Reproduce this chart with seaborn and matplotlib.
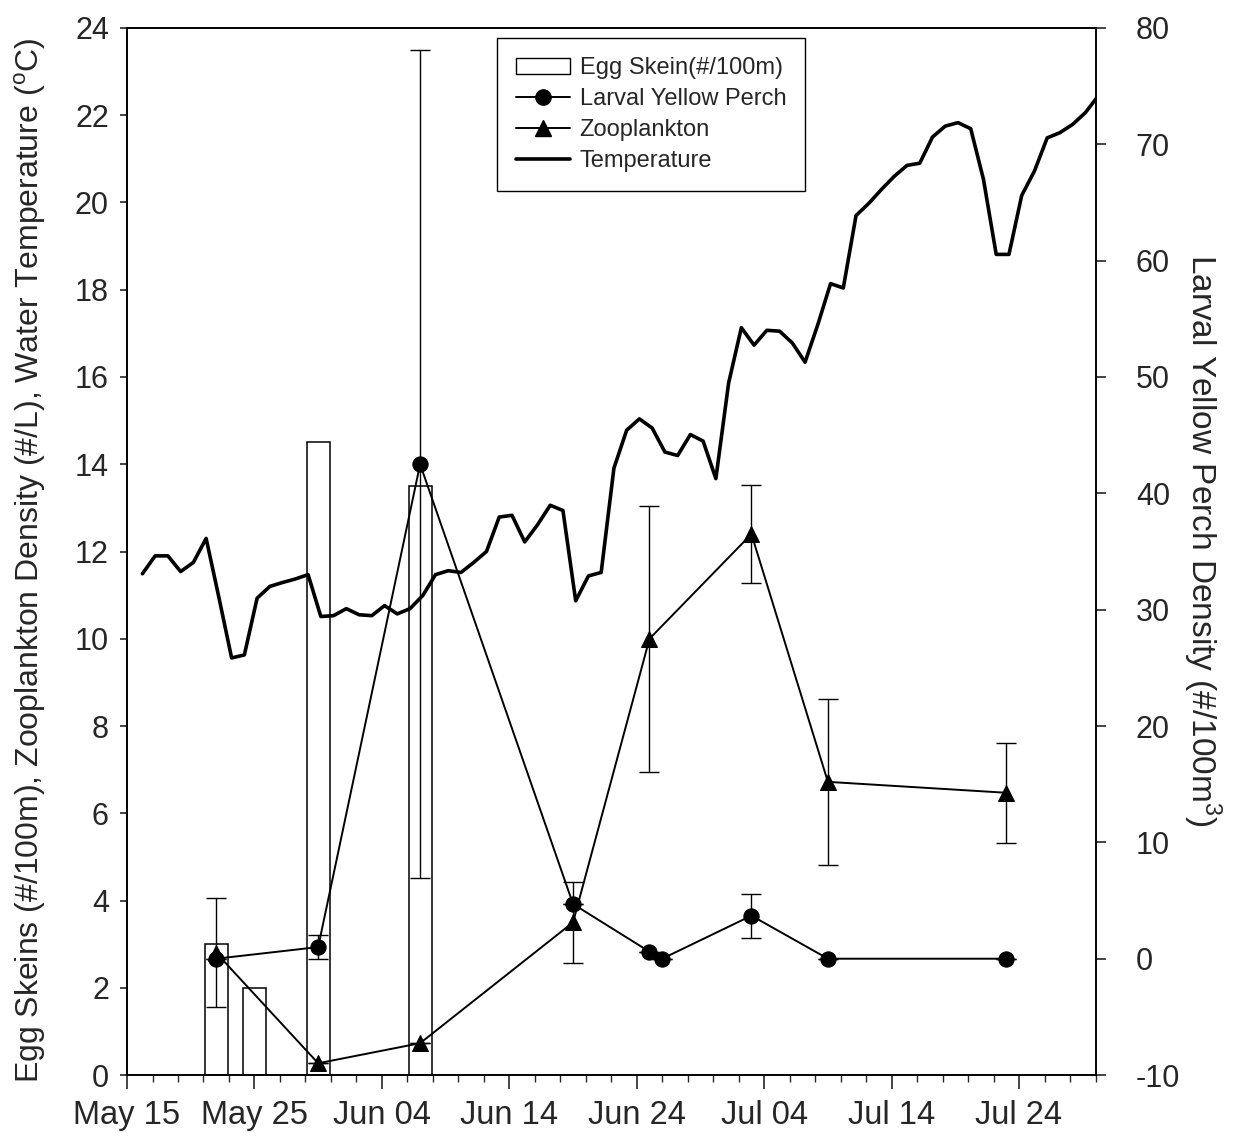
import numpy as np
import pandas as pd
import matplotlib
matplotlib.use("Agg")
import matplotlib.pyplot as plt
import seaborn as sns
from matplotlib.patches import Rectangle
from matplotlib.lines import Line2D

# ---------------- data ----------------
egg_dates = ["2004-05-22", "2004-05-25", "2004-05-30", "2004-06-07"]
egg_values = [3.0, 2.0, 14.5, 13.5]

perch_dates = ["2004-05-22", "2004-05-30", "2004-06-07", "2004-06-19", "2004-06-25",
               "2004-06-26", "2004-07-03", "2004-07-09", "2004-07-23"]
perch_values = [0.0, 1.0, 42.5, 4.7, 0.6, 0.0, 3.7, 0.0, 0.0]
perch_err = [0.0, 1.0, 35.6, 0.0, 0.0, 0.0, 1.9, 0.0, 0.0]

zoo_dates = ["2004-05-22", "2004-05-30", "2004-06-07", "2004-06-19", "2004-06-25",
             "2004-07-03", "2004-07-09", "2004-07-23"]
zoo_values = [2.8, 0.27, 0.73, 3.5, 10.0, 12.4, 6.72, 6.47]
zoo_err = [1.25, 0.0, 0.0, 0.93, 3.05, 1.13, 1.9, 1.15]

temp_start = "2004-05-16 05:00"
temp_values = [11.49, 11.90, 11.90, 11.54, 11.75, 12.30, 10.95, 9.56, 9.63, 10.93,
               11.20, 11.29, 11.37, 11.47, 10.51, 10.53, 10.69, 10.55, 10.53, 10.76,
               10.57, 10.69, 10.99, 11.47, 11.56, 11.52, 11.75, 12.00, 12.79, 12.83,
               12.22, 12.61, 13.06, 12.94, 10.87, 11.44, 11.52, 13.91, 14.78, 15.04,
               14.83, 14.28, 14.20, 14.68, 14.53, 13.67, 15.86, 17.13, 16.73, 17.07,
               17.05, 16.78, 16.34, 17.20, 18.14, 18.04, 19.70, 19.98, 20.30, 20.60,
               20.85, 20.90, 21.50, 21.75, 21.83, 21.69, 20.53, 18.81, 18.81, 20.16,
               20.72, 21.48, 21.60, 21.79, 22.06, 22.44]

xtick_labels = ["May 15", "May 25", "Jun 04", "Jun 14", "Jun 24", "Jul 04", "Jul 14", "Jul 24"]
xtick_dates = ["2004-05-15", "2004-05-25", "2004-06-04", "2004-06-14", "2004-06-24",
               "2004-07-04", "2004-07-14", "2004-07-24"]
x_start, x_end = "2004-05-15", "2004-07-30"

# ---------------- frames ----------------
egg = pd.DataFrame({"date": pd.to_datetime(egg_dates), "value": egg_values})
perch = pd.DataFrame({"date": pd.to_datetime(perch_dates), "value": perch_values, "err": perch_err})
zoo = pd.DataFrame({"date": pd.to_datetime(zoo_dates), "value": zoo_values, "err": zoo_err})
temp = pd.DataFrame({"date": pd.date_range(temp_start, periods=len(temp_values), freq="D"),
                     "value": temp_values})

# ---------------- style ----------------
sns.set_style("ticks")
plt.rcParams["font.family"] = ["Liberation Sans", "DejaVu Sans"]
plt.rcParams["mathtext.fontset"] = "custom"
plt.rcParams["mathtext.rm"] = "Liberation Sans"
plt.rcParams["axes.linewidth"] = 1.2
plt.rcParams["axes.unicode_minus"] = False

fig = plt.figure(figsize=(12.38, 11.41), dpi=100)
ax = fig.add_axes([0.1026, 0.0578, 0.7823, 0.9177])
ax2 = ax.twinx()

# bars
ax.bar(egg["date"], egg["value"], width=1.8, facecolor="white", edgecolor="black",
       linewidth=1.1, zorder=1)

# zooplankton
ax.errorbar(zoo["date"], zoo["value"], yerr=zoo["err"], fmt="none", ecolor="black",
            elinewidth=1.0, capsize=7, capthick=1.0, zorder=2)
sns.lineplot(data=zoo, x="date", y="value", ax=ax, color="black", marker="^",
             markersize=11, markeredgecolor="black", linewidth=1.4, zorder=3,
             legend=False)

# temperature
sns.lineplot(data=temp, x="date", y="value", ax=ax, color="black", linewidth=2.6,
             zorder=3, legend=False)

# perch on right axis
ax2.errorbar(perch["date"], perch["value"], yerr=perch["err"], fmt="none", ecolor="black",
             elinewidth=1.0, capsize=7, capthick=1.0, zorder=2)
sns.lineplot(data=perch, x="date", y="value", ax=ax2, color="black", marker="o",
             markersize=11, markeredgecolor="black", linewidth=1.4, zorder=3,
             legend=False)

# axes limits & ticks
ax.set_xlim(pd.Timestamp(x_start), pd.Timestamp(x_end))
ax.set_ylim(0, 24)
ax.set_yticks(np.arange(0, 25, 2))
ax2.set_ylim(-10, 80)
ax2.set_yticks(np.arange(-10, 81, 10))

ax.set_xticks(pd.to_datetime(xtick_dates))
ax.set_xticklabels(xtick_labels)
ax.set_xticks(pd.date_range(x_start, x_end, freq="2D"), minor=True)

ax.tick_params(axis="x", which="major", direction="out", length=10, width=1.2,
               labelsize=23.5, pad=8)
ax.tick_params(axis="x", which="minor", direction="out", length=5, width=1.0)
ax.tick_params(axis="y", direction="out", length=5, width=1.2, labelsize=22, pad=8)
ax2.tick_params(axis="y", direction="out", length=7, width=1.2, labelsize=22, pad=22)

ax.set_xlabel("")
ax.set_ylabel(r"Egg Skeins (#/100m), Zooplankton Density (#/L), Water Temperature ($^{\rm o}$C)",
              fontsize=23, ha="center", va="center")
ax.yaxis.set_label_coords(-0.100, 0.492)
ax2.set_ylabel(r"Larval Yellow Perch Density (#/100m$^{3}$)", fontsize=24,
               rotation=270, ha="center", va="center")
ax2.yaxis.set_label_coords(1.110, 0.511)

for a in (ax, ax2):
    for s in a.spines.values():
        s.set_visible(True)
        s.set_color("black")
        s.set_linewidth(1.2)

# legend
handles = [
    Rectangle((0, 0), 1, 1, facecolor="white", edgecolor="black", linewidth=1.0),
    Line2D([], [], color="black", marker="o", markersize=11, linewidth=1.4),
    Line2D([], [], color="black", marker="^", markersize=11, linewidth=1.4),
    Line2D([], [], color="black", linewidth=2.6),
]
labels = ["Egg Skein(#/100m)", "Larval Yellow Perch", "Zooplankton", "Temperature"]
leg = ax2.legend(handles, labels, loc="upper left", bbox_to_anchor=(0.382, 0.99),
                 fontsize=17, frameon=True, fancybox=False, framealpha=1,
                 edgecolor="black", handlelength=2.3, labelspacing=0.38,
                 borderpad=0.8, handletextpad=0.4, borderaxespad=0)
leg.get_frame().set_linewidth(1.0)
leg.set_zorder(10)

fig.savefig("out.png", dpi=100, facecolor="white")
